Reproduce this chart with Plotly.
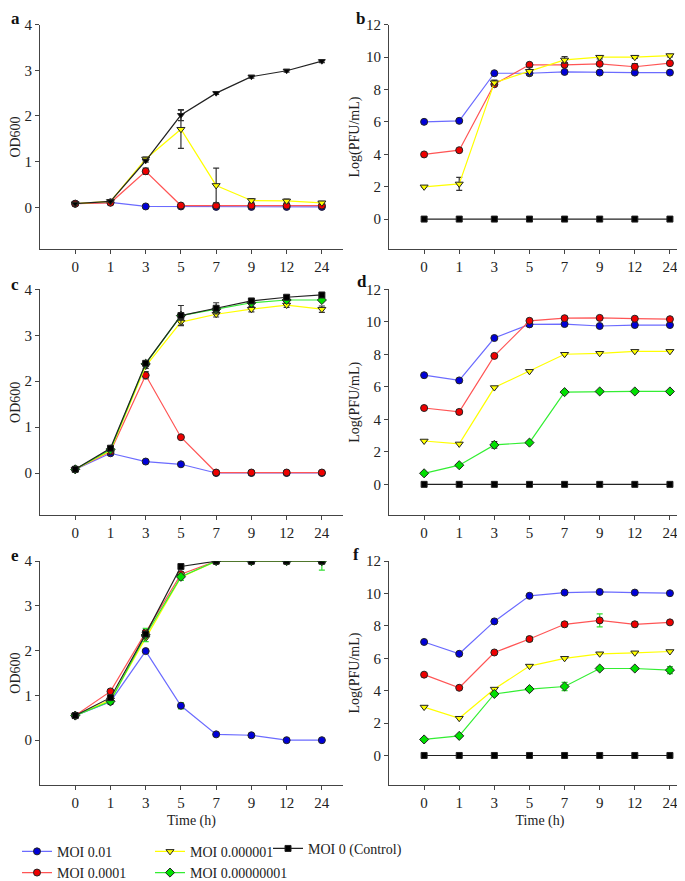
import plotly.graph_objects as go

time_labels = ["0", "1", "3", "5", "7", "9", "12", "24"]
xi = list(range(len(time_labels)))

# Panel a (OD600)
a_blue = [0.08, 0.11, 0.02, 0.02, 0.01, 0.01, 0.01, 0.01]
a_red = [0.08, 0.10, 0.79, 0.04, 0.04, 0.04, 0.04, 0.04]
a_yellow = [0.08, 0.13, 1.06, 1.71, 0.48, 0.15, 0.14, 0.10]
a_black = [0.08, 0.13, 1.02, 2.02, 2.50, 2.86, 2.99, 3.20]
a_red_err = [0, 0, 0.07, 0, 0, 0, 0, 0]
a_yellow_err = [0, 0, 0.04, 0.42, 0.38, 0.04, 0.04, 0.03]
a_black_err = [0, 0, 0.03, 0.12, 0.03, 0.03, 0.03, 0.03]

# Panel b (Log PFU/mL)
b_blue = [6.0, 6.06, 9.0, 9.0, 9.08, 9.04, 9.04, 9.04]
b_red = [3.99, 4.25, 8.32, 9.52, 9.52, 9.58, 9.40, 9.62]
b_yellow = [1.99, 2.17, 8.42, 9.12, 9.82, 9.99, 9.99, 10.09]
b_black = [0, 0, 0, 0, 0, 0, 0, 0]
b_red_err = [0, 0, 0, 0, 0.1, 0, 0.2, 0]
b_yellow_err = [0, 0.4, 0.15, 0.25, 0.2, 0.1, 0.08, 0.08]

# Panel c (OD600)
c_blue = [0.08, 0.43, 0.25, 0.19, 0.0, 0.0, 0.0, 0.0]
c_red = [0.08, 0.47, 2.13, 0.78, 0.01, 0.01, 0.01, 0.01]
c_yellow = [0.08, 0.49, 2.33, 3.29, 3.46, 3.57, 3.66, 3.57]
c_green = [0.08, 0.51, 2.38, 3.43, 3.57, 3.71, 3.77, 3.77]
c_black = [0.08, 0.54, 2.39, 3.43, 3.59, 3.75, 3.83, 3.88]
c_red_err = [0, 0, 0.08, 0.03, 0, 0, 0, 0]
c_yellow_err = [0, 0, 0.05, 0.06, 0.06, 0.06, 0.05, 0.07]
c_black_err = [0, 0.04, 0.04, 0.22, 0.12, 0.05, 0.03, 0.03]

# Panel d (Log PFU/mL)
d_blue = [6.72, 6.40, 9.01, 9.85, 9.87, 9.75, 9.81, 9.81]
d_red = [4.70, 4.46, 7.91, 10.07, 10.23, 10.25, 10.20, 10.17]
d_yellow = [2.67, 2.49, 5.96, 6.96, 8.01, 8.07, 8.19, 8.19]
d_green = [0.68, 1.18, 2.43, 2.57, 5.68, 5.72, 5.72, 5.72]
d_black = [0, 0, 0, 0, 0, 0, 0, 0]
d_red_err = [0, 0.12, 0, 0, 0, 0, 0, 0]
d_green_err = [0, 0, 0.2, 0, 0, 0, 0, 0]

# Panel e (OD600)
e_blue = [0.55, 0.86, 1.99, 0.77, 0.13, 0.11, 0.0, 0.0]
e_red = [0.55, 1.09, 2.41, 3.71, 4.0, 4.0, 4.0, 4.0]
e_yellow = [0.55, 0.90, 2.28, 3.64, 4.0, 4.0, 4.0, 4.0]
e_green = [0.55, 0.87, 2.35, 3.65, 4.0, 4.0, 4.0, 4.0]
e_black = [0.55, 0.95, 2.37, 3.88, 4.0, 4.0, 4.0, 4.0]
e_blue_err = [0, 0.03, 0.03, 0.07, 0, 0, 0, 0]
e_green_err = [0, 0.05, 0.15, 0.08, 0, 0.05, 0, 0.2]

# Panel f (Log PFU/mL)
f_blue = [7.01, 6.28, 8.28, 9.86, 10.06, 10.10, 10.06, 10.02]
f_red = [4.99, 4.18, 6.36, 7.19, 8.10, 8.34, 8.10, 8.22]
f_yellow = [2.99, 2.30, 4.10, 5.52, 6.0, 6.28, 6.34, 6.42]
f_green = [0.99, 1.21, 3.80, 4.10, 4.26, 5.37, 5.37, 5.27]
f_black = [0, 0, 0, 0, 0, 0, 0, 0]
f_red_err = [0, 0, 0, 0.15, 0.15, 0.4, 0.15, 0]
f_green_err = [0, 0, 0.1, 0.1, 0.25, 0.1, 0.05, 0.22]

series_names = ["MOI 0.01", "MOI 0.0001", "MOI 0.000001", "MOI 0.00000001", "MOI 0 (Control)"]

FONT = "Liberation Serif"
STY = {
    "blue": dict(line="#6b6bff", fill="#0000d8", symbol="circle", size=7, name=series_names[0], legend="legend"),
    "red": dict(line="#ff5555", fill="#ee0000", symbol="circle", size=7, name=series_names[1], legend="legend"),
    "yellow": dict(line="#ffff00", fill="#ffff00", symbol="triangle-down", size=7, name=series_names[2], legend="legend2"),
    "green": dict(line="#33ee33", fill="#00e000", symbol="diamond", size=7, name=series_names[3], legend="legend2"),
    "black": dict(line="#222222", fill="#000000", symbol="square", size=6, name=series_names[4], legend="legend3"),
}

fig = go.Figure()
shown = set()


def add(panel, key, y, err=None, symbol=None, errcolor="#333333"):
    s = STY[key]
    ax = "" if panel == 1 else str(panel)
    showleg = key not in shown and panel in (2, 4)
    if showleg:
        shown.add(key)
    tr = dict(
        x=xi, y=y, mode="lines+markers", name=s["name"],
        line=dict(color=s["line"], width=1.2),
        marker=dict(symbol=symbol or s["symbol"], size=s["size"], color=s["fill"],
                    line=dict(color="#222222", width=1)),
        xaxis="x" + ax, yaxis="y" + ax, showlegend=showleg, legend=s["legend"],
    )
    if err is not None:
        tr["error_y"] = dict(type="data", array=err, visible=True, color=errcolor, thickness=1.2, width=3)
    fig.add_trace(go.Scatter(**tr))


# a
add(1, "blue", a_blue)
add(1, "red", a_red, a_red_err)
add(1, "yellow", a_yellow, a_yellow_err)
add(1, "black", a_black, a_black_err, symbol="triangle-down")
# b
add(2, "blue", b_blue)
add(2, "red", b_red, b_red_err)
add(2, "yellow", b_yellow, b_yellow_err)
add(2, "black", b_black)
# c
add(3, "blue", c_blue)
add(3, "red", c_red, c_red_err)
add(3, "yellow", c_yellow, c_yellow_err)
add(3, "green", c_green)
add(3, "black", c_black, c_black_err)
# d
add(4, "blue", d_blue)
add(4, "red", d_red, d_red_err)
add(4, "yellow", d_yellow)
add(4, "green", d_green, d_green_err)
add(4, "black", d_black)
# e
add(5, "blue", e_blue, e_blue_err, errcolor="#33dd33")
add(5, "red", e_red)
add(5, "yellow", e_yellow)
add(5, "green", e_green, e_green_err, errcolor="#33dd33")
add(5, "black", e_black)
# f
add(6, "blue", f_blue)
add(6, "red", f_red, f_red_err, errcolor="#33dd33")
add(6, "yellow", f_yellow)
add(6, "green", f_green, f_green_err, errcolor="#33dd33")
add(6, "black", f_black)

H, W = 881, 685
xl = [32 / W, 335 / W]
xr = [381 / W, 683 / W]
rows = [(17, 247), (288, 519), (566, 795)]
od_ranges = [[-0.92, 4], [-0.92, 4], [-1.0, 4]]
pfu_ranges = [[-1.87, 12], [-1.9, 12], [-1.82, 12]]

axfont = dict(family=FONT, size=15, color="#222222")
titlefont = dict(family=FONT, size=14, color="#222222")
layout = dict(
    width=W, height=H, margin=dict(l=0, r=0, t=0, b=0), autosize=False,
    paper_bgcolor="white", plot_bgcolor="white",
    font=dict(family=FONT, size=14, color="#222222"),
)
for r, (top, bot) in enumerate(rows):
    dom = [1 - bot / H, 1 - top / H]
    for c in range(2):
        n = r * 2 + c + 1
        ax = "" if n == 1 else str(n)
        xa = dict(
            domain=xl if c == 0 else xr, range=[-1, 7.6], tickvals=xi, ticktext=time_labels,
            showline=True, linecolor="#444444", linewidth=1, ticks="outside", ticklen=4,
            tickcolor="#444444", showgrid=False, zeroline=False, anchor="y" + ax,
            tickfont=axfont, automargin=False,
        )
        if r == 2:
            xa["title"] = dict(text="Time (h)", font=titlefont, standoff=5)
        ya = dict(
            domain=dom, range=(od_ranges[r] if c == 0 else pfu_ranges[r]),
            tickvals=[0, 1, 2, 3, 4] if c == 0 else [0, 2, 4, 6, 8, 10, 12],
            showline=True, linecolor="#444444", linewidth=1, ticks="outside", ticklen=4,
            tickcolor="#444444", showgrid=False, zeroline=False, anchor="x" + ax,
            tickfont=axfont, automargin=False,
            title=dict(text="OD600" if c == 0 else "Log(PFU/mL)", font=titlefont, standoff=3),
        )
        layout["xaxis" + ax] = xa
        layout["yaxis" + ax] = ya

legfont = dict(family=FONT, size=14, color="#222222")
layout["legend"] = dict(x=9 / W, y=1 - 847 / H, xanchor="left", yanchor="top", orientation="v",
                        font=legfont, bgcolor="rgba(0,0,0,0)", tracegroupgap=0)
layout["legend2"] = dict(x=142 / W, y=1 - 847 / H, xanchor="left", yanchor="top", orientation="v",
                         font=legfont, bgcolor="rgba(0,0,0,0)", tracegroupgap=0)
layout["legend3"] = dict(x=260 / W, y=1 - 844 / H, xanchor="left", yanchor="top", orientation="v",
                         font=legfont, bgcolor="rgba(0,0,0,0)", tracegroupgap=0)

labels = [("a", 8, 11), ("b", 353, 11), ("c", 7, 283), ("d", 354, 280), ("e", 7, 560), ("f", 348, 559)]
ann = []
for t, px, py in labels:
    ann.append(dict(text="<b>%s</b>" % t, x=px / W, y=1 - py / H, xref="paper", yref="paper",
                    showarrow=False, xanchor="center", yanchor="middle",
                    font=dict(family=FONT, size=17, color="#111111")))
layout["annotations"] = ann

fig.update_layout(**layout)
fig.write_html("out.html")
